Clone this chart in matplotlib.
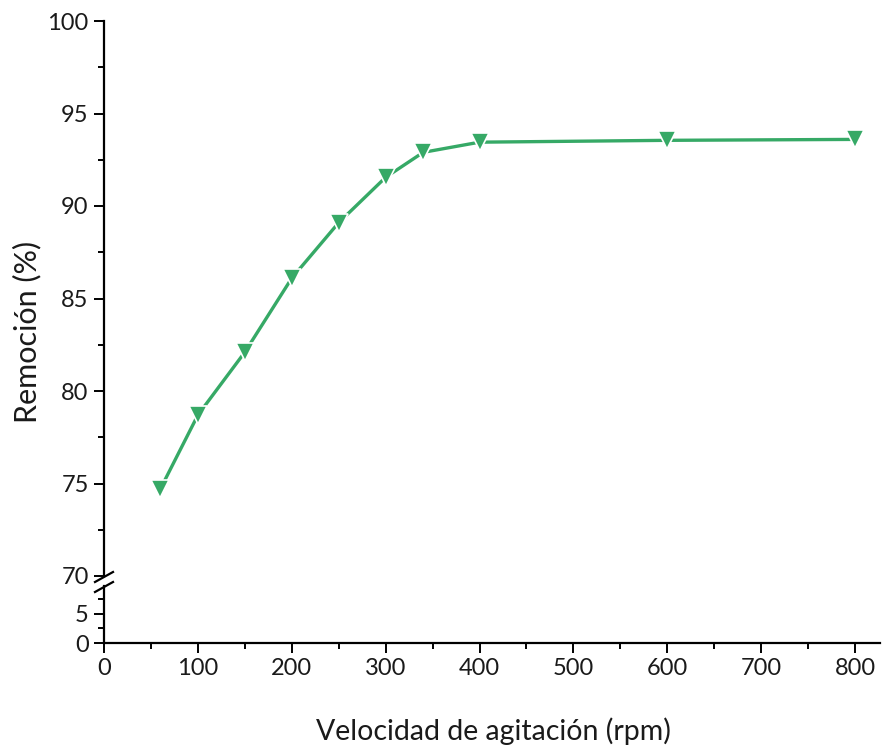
import matplotlib.pyplot as plt
from matplotlib.ticker import MultipleLocator

# velocidad de agitación (rpm) vs remoción (%)
velocidad = [60, 100, 150, 200, 250, 300, 340, 400, 600, 800]
remocion = [74.7, 78.7, 82.1, 86.1, 89.1, 91.55, 92.9, 93.45, 93.55, 93.6]

verde = '#36a966'
W, H = 883, 753

plt.rcParams['font.family'] = ['Lato', 'DejaVu Sans']
plt.rcParams['text.color'] = '#1a1a1a'
fig = plt.figure(figsize=(W / 100, H / 100), dpi=100)

x0, x1 = 104, 880
ax = fig.add_axes([x0 / W, (H - 576) / H, (x1 - x0) / W, (576 - 21) / H])
ax_b = fig.add_axes([x0 / W, (H - 643) / H, (x1 - x0) / W, (643 - 586) / H], sharex=ax)

ax.plot(velocidad, remocion, color=verde, lw=2.4, marker='v', ms=13,
        mfc=verde, mec='white', mew=1.2, clip_on=False, zorder=3)

ax.set_ylim(70, 100)
ax.set_xlim(0, 826.6)
ax_b.set_ylim(0, 9.8)

for a in (ax, ax_b):
    a.spines['top'].set_visible(False)
    a.spines['right'].set_visible(False)
    a.spines['left'].set_linewidth(1.6)
    a.spines['bottom'].set_linewidth(1.6)
    a.tick_params(which='major', direction='out', length=7, width=1.4,
                  labelsize=17, pad=4, labelcolor='#1a1a1a')
    a.tick_params(which='minor', direction='out', length=4, width=1.4)

ax.spines['bottom'].set_visible(False)
ax.tick_params(axis='x', which='both', bottom=False, labelbottom=False)
ax.yaxis.set_major_locator(MultipleLocator(5))
ax.yaxis.set_minor_locator(MultipleLocator(2.5))

ax_b.set_yticks([0, 5])
ax_b.yaxis.set_minor_locator(MultipleLocator(2.5))
ax_b.xaxis.set_major_locator(MultipleLocator(100))
ax_b.xaxis.set_minor_locator(MultipleLocator(50))

# marcas de corte del eje y
for yy in (577, 587):
    fig.add_artist(plt.Line2D([(x0 - 9) / W, (x0 + 9) / W],
                              [(H - yy - 5) / H, (H - yy + 5) / H],
                              color='black', lw=1.6))

fig.text(27 / W, (H - 332) / H, 'Remoción (%)', rotation=90,
         ha='center', va='center', fontsize=22)
fig.text((x0 + 389) / W, (H - 731) / H, 'Velocidad de agitación (rpm)',
         ha='center', va='center', fontsize=20.5)

fig.savefig('out.png', dpi=100)
